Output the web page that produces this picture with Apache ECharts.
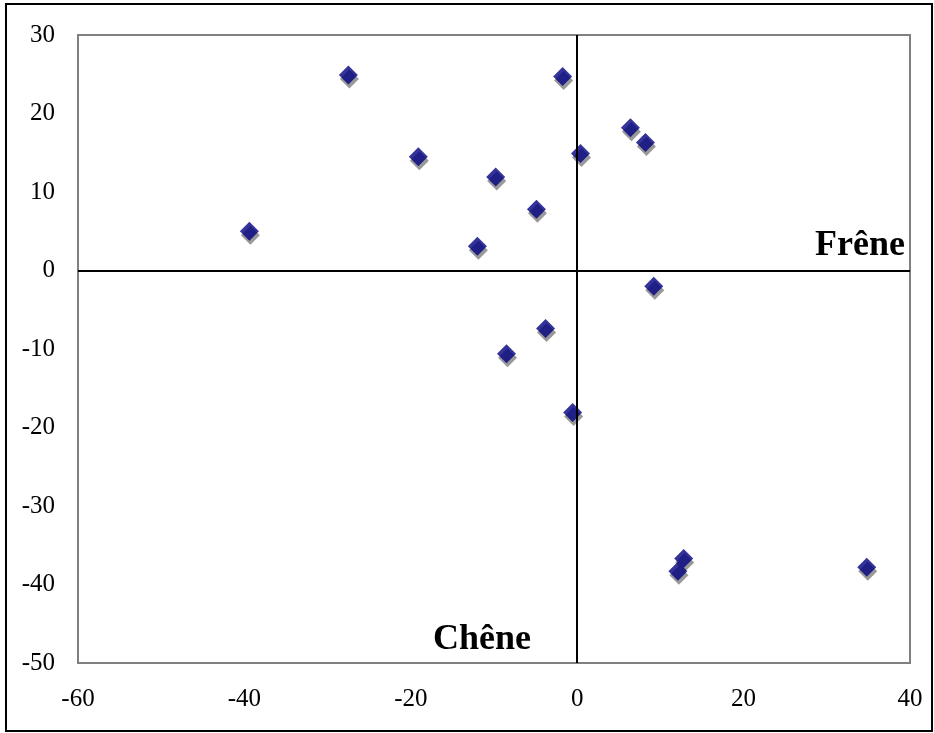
<!DOCTYPE html>
<html><head><meta charset="utf-8">
<script src="https://cdn.jsdelivr.net/npm/echarts@6/dist/echarts.min.js"></script>
<style>html,body{margin:0;padding:0;background:#fff}#c{width:934px;height:733px}</style>
</head><body><div id="c"></div>
<script>
const xValues = [-39.4, -27.5, -19.1, -9.8, -12.0, -4.9, -1.75, 0.4, 6.4, 8.2, 9.2, -3.8, -8.5, -0.55, 12.8, 12.1, 34.8];
const yValues = [5.0, 24.9, 14.5, 11.9, 3.1, 7.8, 24.7, 14.9, 18.2, 16.3, -2.0, -7.4, -10.6, -18.1, -36.7, -38.3, -37.8];
const xTicks = [-60, -40, -20, 0, 20, 40];
const yTicks = [-50, -40, -30, -20, -10, 0, 10, 20, 30];
const pts = xValues.map((x, i) => [x, yValues[i]]);
const font = 'Liberation Serif, Times New Roman, serif';
const chart = echarts.init(document.getElementById('c'));
chart.setOption({
  animation: false,
  backgroundColor: '#fff',
  grid: {left: 78, top: 35, width: 832, height: 628, show: true, borderColor: '#808080', borderWidth: 2, backgroundColor: 'transparent'},
  xAxis: {type: 'value', min: xTicks[0], max: xTicks[xTicks.length-1], interval: 20,
    axisLine: {show: false}, axisTick: {show: false}, splitLine: {show: false},
    axisLabel: {color: '#000', fontFamily: font, fontSize: 25, margin: 24}},
  yAxis: {type: 'value', min: yTicks[0], max: yTicks[yTicks.length-1], interval: 10,
    axisLine: {show: false}, axisTick: {show: false}, splitLine: {show: false},
    axisLabel: {color: '#000', fontFamily: font, fontSize: 25, margin: 23}},
  series: [
    {type: 'scatter', data: pts, symbol: 'diamond', symbolSize: 19, symbolOffset: [1, 4],
     itemStyle: {color: '#808080'}, silent: true, z: 2,
     markLine: {silent: true, symbol: 'none', label: {show: false},
       lineStyle: {color: '#000', width: 2, type: 'solid'},
       data: [{xAxis: 0}, {yAxis: 0}]}},
    {type: 'scatter', data: pts, symbol: 'diamond', symbolSize: 19,
     itemStyle: {color: '#000080'}, z: 3}
  ],
  graphic: [
    {type: 'rect', shape: {x: 6, y: 4, width: 926, height: 727}, style: {fill: 'none', stroke: '#000', lineWidth: 2}, z: -1},
    {type: 'text', style: {x: 905, y: 246, text: 'Frêne', font: 'bold 36px ' + font, fill: '#000', align: 'right', verticalAlign: 'middle'}},
    {type: 'text', style: {x: 433, y: 640, text: 'Chêne', font: 'bold 36px ' + font, fill: '#000', align: 'left', verticalAlign: 'middle'}}
  ]
});
</script></body></html>
